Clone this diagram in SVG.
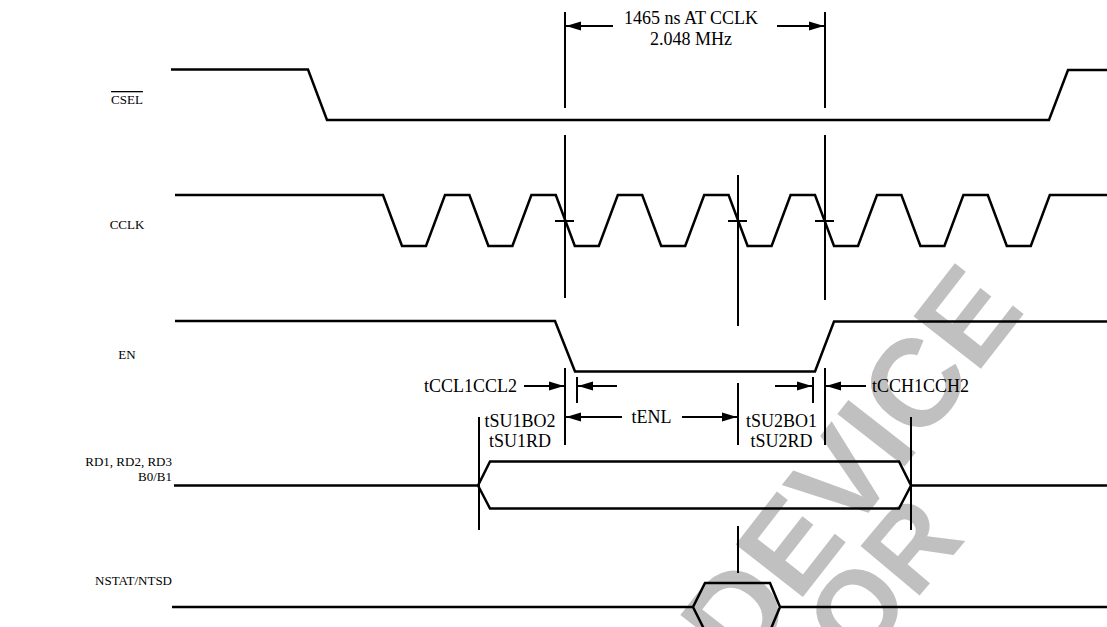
<svg xmlns="http://www.w3.org/2000/svg" width="1107" height="627" viewBox="0 0 1107 627">
<style>
.wm{font-family:"Liberation Sans",Arial,sans-serif;font-weight:bold;font-size:124px;fill:#c0c0c0}
.wave{fill:none;stroke:#000;stroke-width:2.5;stroke-linejoin:miter}
.mk{fill:none;stroke:#000;stroke-width:2}
.lbl{font-family:"Liberation Serif","Times New Roman",serif;font-size:13px;fill:#000}
.tl{font-family:"Liberation Serif","Times New Roman",serif;font-size:18px;fill:#000}
</style>
<defs>
<marker id="ah" markerUnits="userSpaceOnUse" markerWidth="15" markerHeight="10" refX="15" refY="5" orient="auto"><path d="M0,0.5 L15,5 L0,9.5 z" fill="#000"/></marker>
</defs>
<rect width="1107" height="627" fill="#fff"/>
<g id="watermark">
<text class="wm" text-anchor="middle" transform="translate(850,465) rotate(-52)" x="0" y="44">DEVICE</text>
<text class="wm" text-anchor="middle" transform="translate(882,578) rotate(-50)" x="0" y="40" style="font-size:112px">OR</text>
</g>
<g id="labels">
<text class="lbl" x="127" y="104" text-anchor="middle" style="text-decoration:overline">CSEL</text>
<text class="lbl" x="127" y="229" text-anchor="middle">CCLK</text>
<text class="lbl" x="127" y="359" text-anchor="middle">EN</text>
<text class="lbl" x="172" y="466" text-anchor="end">RD1, RD2, RD3</text>
<text class="lbl" x="172" y="481" text-anchor="end">B0/B1</text>
<text class="lbl" x="172" y="585" text-anchor="end">NSTAT/NTSD</text>
</g>
<g id="CSEL"><path class="wave" d="M171,69.5 H308 L327,120 H1049 L1068,70 H1107"/></g>
<g id="CCLK"><path class="wave" d="M175,195 H383 L402,246 H426 L445,195 H469.4 L488.4,246 H512.4 L531.4,195 H555.8 L574.8,246 H598.8 L617.8,195 H642.2 L661.2,246 H685.2 L704.2,195 H728.6 L747.6,246 H771.6 L790.6,195 H815 L834,246 H858 L877,195 H901.4 L920.4,246 H944.4 L963.4,195 H987.8 L1006.8,246 H1030.8 L1049.8,195 H1107"/></g>
<g id="EN"><path class="wave" d="M175,321 H555 L575,371.5 H815 L834,321.5 H1107"/></g>
<g id="RD"><path class="wave" d="M174,485.5 H478 L490,461.5 H899 L911,485.5 L899,508.5 H490 L478,485.5 M911,485.5 H1107"/></g>
<g id="NSTAT"><path class="wave" d="M172,607 H693 L705,583 H770 L780,607 H1107 M693,607 L705,631 M780,607 L770,631"/></g>
<g id="connectors">
<path class="mk" d="M565,12 V108 M825,12 V108"/>
<line class="mk" x1="613" y1="26" x2="566" y2="26" marker-end="url(#ah)"/>
<line class="mk" x1="777" y1="26" x2="824" y2="26" marker-end="url(#ah)"/>
<path class="mk" d="M565,135 V298 M738,175 V326 M825,135 V300 M555,221 H574 M728,221 H747 M815,221 H834"/>
<path class="mk" d="M565,368 V445 M577,377 V403 M813,377 V403 M825,368 V445 M738,383 V445 M479,417 V530 M911,417 V530 M738,526 V573"/>
<line class="mk" x1="524" y1="386" x2="564" y2="386" marker-end="url(#ah)"/>
<line class="mk" x1="617" y1="386" x2="578" y2="386" marker-end="url(#ah)"/>
<line class="mk" x1="775" y1="386" x2="812" y2="386" marker-end="url(#ah)"/>
<line class="mk" x1="866" y1="386" x2="826" y2="386" marker-end="url(#ah)"/>
<line class="mk" x1="622" y1="417" x2="566" y2="417" marker-end="url(#ah)"/>
<line class="mk" x1="682" y1="417" x2="737" y2="417" marker-end="url(#ah)"/>
</g>
<g id="timing-labels">
<text class="tl" x="691" y="24" text-anchor="middle">1465 ns AT CCLK</text>
<text class="tl" x="691" y="45" text-anchor="middle">2.048 MHz</text>
<text class="tl" x="517" y="392" text-anchor="end">tCCL1CCL2</text>
<text class="tl" x="872" y="392">tCCH1CCH2</text>
<text class="tl" x="651.5" y="423" text-anchor="middle">tENL</text>
<text class="tl" x="520" y="427" text-anchor="middle">tSU1BO2</text>
<text class="tl" x="520" y="447" text-anchor="middle">tSU1RD</text>
<text class="tl" x="781.5" y="427" text-anchor="middle">tSU2BO1</text>
<text class="tl" x="781.5" y="447" text-anchor="middle">tSU2RD</text>
</g>
</svg>
